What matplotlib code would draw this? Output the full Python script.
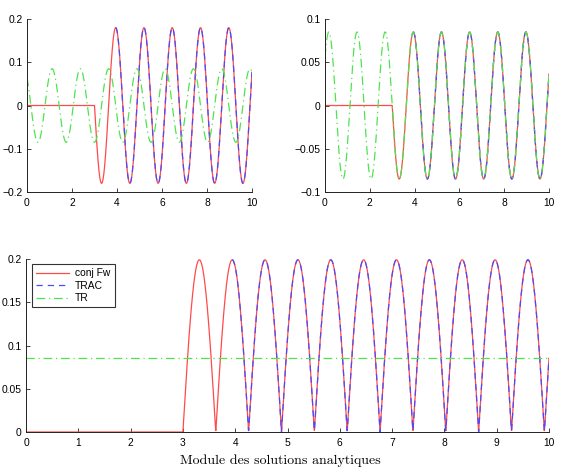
import numpy as np
import matplotlib
matplotlib.use("Agg")
import matplotlib.pyplot as plt

# ---- values ----
t_range = [0.0, 10.0]
n_samples = 2001
omega = 5.0                    # angular frequency (period ~1.257)
onset = 3.0                    # conj Fw starts at t = 3
trac_start = 3.94              # TRAC visible from first peak on
amp_real = 0.18                # amplitude of real part (top left)
amp_imag = 0.085               # amplitude of imaginary part (top right)
amp_tr = 0.085                 # amplitude of TR
tr_phase_t = 0.172             # TR imaginary part peaks at t = 0.172 + k*T

labels = ["conj Fw", "TRAC", "TR"]
colors = ["#ff4a4a", "#4a4aff", "#4ee44e"]
xticks_top = [0, 2, 4, 6, 8, 10]
yticks_tl = [-0.2, -0.1, 0, 0.1, 0.2]
yticks_tr = [-0.1, -0.05, 0, 0.05, 0.1]
xticks_bot = [0, 1, 2, 3, 4, 5, 6, 7, 8, 9, 10]
yticks_bot = [0, 0.05, 0.1, 0.15, 0.2]
xlabel = "Module des solutions analytiques"

# ---- series ----
t = np.linspace(t_range[0], t_range[1], n_samples)
s = np.where(t >= onset, -np.sin(omega * (t - onset)), 0.0)
fw_re = amp_real * s
fw_im = amp_imag * s
fw_abs = np.hypot(fw_re, fw_im)
mask = t >= trac_start
tr_re = -amp_tr * np.sin(omega * (t - tr_phase_t))
tr_im = amp_tr * np.cos(omega * (t - tr_phase_t))
tr_abs = np.hypot(tr_re, tr_im)

plt.rcParams['font.family'] = ['Liberation Sans', 'DejaVu Sans']
plt.rcParams['axes.unicode_minus'] = True

fig = plt.figure(figsize=(5.63, 4.70), dpi=100)
W, H = 563, 470

def mk(l, r, top, bot):
    return fig.add_axes([l / W, 1 - bot / H, (r - l) / W, (bot - top) / H])

ax1 = mk(27, 252, 19, 192)
ax2 = mk(325, 549, 19, 192)
ax3 = mk(26, 549, 259, 432)

def fmt(v):
    if v == 0:
        return "0"
    txt = ("%g" % abs(v))
    return ("\u2212" if v < 0 else "") + txt

def style(ax, xt, yt, ylim):
    ax.set_xlim(t_range)
    ax.set_ylim(ylim)
    ax.set_xticks(xt)
    ax.set_xticklabels([fmt(v) for v in xt])
    ax.set_yticks(yt)
    ax.set_yticklabels([fmt(v) for v in yt])
    ax.spines['top'].set_visible(False)
    ax.spines['right'].set_visible(False)
    for sp in ['left', 'bottom']:
        ax.spines[sp].set_linewidth(0.7)
        ax.spines[sp].set_color('#222222')
    ax.tick_params(direction='in', length=3, width=0.6, labelsize=7.4,
                   colors='#222222', labelcolor='black')
    ax.tick_params(axis='x', pad=4.5)
    ax.tick_params(axis='y', pad=3)

lw = 0.9
tm = np.where(mask, 1.0, np.nan)
dash = (0, (5, 4))
dashdot = (0, (7, 3, 1, 3))

ax1.plot(t, fw_re, color=colors[0], lw=lw, label=labels[0])
ax1.plot(t, fw_re * tm, color=colors[1], lw=lw, ls=dash, label=labels[1])
ax1.plot(t, tr_re, color=colors[2], lw=lw, ls=dashdot, label=labels[2])
style(ax1, xticks_top, yticks_tl, (-0.2, 0.2))

ax2.plot(t, fw_im, color=colors[0], lw=lw)
ax2.plot(t, fw_im * tm, color=colors[1], lw=lw, ls=dash)
ax2.plot(t, tr_im, color=colors[2], lw=lw, ls=dashdot)
style(ax2, xticks_top, yticks_tr, (-0.1, 0.1))

ax3.plot(t, fw_abs, color=colors[0], lw=lw, label=labels[0])
ax3.plot(t, fw_abs * tm, color=colors[1], lw=lw, ls=dash, label=labels[1])
ax3.plot(t, tr_abs, color=colors[2], lw=lw, ls=dashdot, label=labels[2])
style(ax3, xticks_bot, yticks_bot, (0, 0.2))

leg = ax3.legend(loc='upper left', bbox_to_anchor=(6 / 523, 1 - 5 / 173),
                 fontsize=7.4, frameon=True, fancybox=False, handlelength=3.2,
                 borderpad=0.4, labelspacing=0.25, handletextpad=0.6,
                 borderaxespad=0.0)
leg.get_frame().set_edgecolor('black')
leg.get_frame().set_linewidth(0.8)

fig.text(280 / W, 1 - 461 / H, xlabel, ha='center', va='center',
         fontsize=10, family=['cmr10', 'DejaVu Serif'])

fig.savefig("out.png", dpi=100)
